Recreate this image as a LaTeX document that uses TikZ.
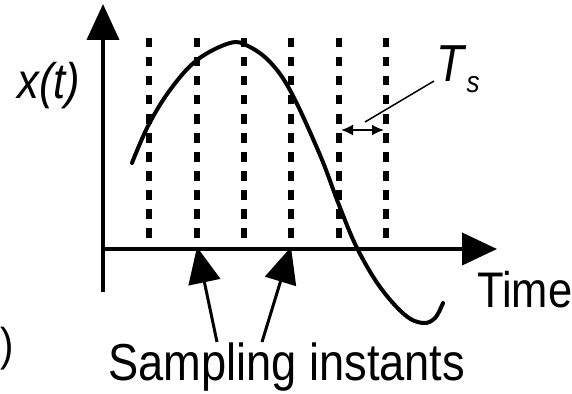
\documentclass[tikz,border=0pt]{standalone}
\usepackage{fontspec}
\setmainfont{Liberation Sans}[FakeStretch=0.87]
\usetikzlibrary{arrows.meta,positioning}

\begin{document}
\begin{tikzpicture}[x=1pt,y=-1pt,>=Latex,
    axis/.style={line width=4pt},
    sampleline/.style={line width=5.2pt,dash pattern=on 9.5pt off 9.5pt},
    bigtip/.style={-{Triangle[length=36pt,width=32pt]}},
    lbl/.style={font=\fontsize{52}{52}\selectfont,inner sep=0pt}]
  \useasboundingbox (0,0) rectangle (572,393);
  % axes
  \coordinate (ybot) at (103,292);
  \coordinate (ytop) at (103,4);
  \coordinate (orig) at (101,249);
  \coordinate (xend) at (497,249);
  \draw[axis,bigtip] (ybot) -- (ytop);
  \draw[axis,-{Triangle[length=35pt,width=32pt]}] (orig) -- (xend);
  % sampling instants
  \foreach \n/\x in {1/149,2/197,3/244,4/291,5/339,6/386}{
    \coordinate (t\n) at (\x,38);
    \coordinate (b\n) at (\x,249);
    \draw[sampleline] (t\n) -- (b\n);
  }
  % signal
  \draw[line width=4pt,line cap=round] plot[smooth,tension=0.6] coordinates {(132,163) (148,126) (170,90) (197,60) (230,43) (248,46) (270,62) (291,92) (320,155) (339,205) (357,248) (380,287) (405,315) (423,323) (435,318) (443,303)};
  % labels
  \node[lbl,font=\fontsize{50}{50}\selectfont\itshape] (xt) at (49,86) {x(t)};
  \node[lbl,font=\fontsize{50}{50}\selectfont,anchor=base west] (time) at (477,307) {Time};
  \node[lbl,anchor=base west] (samp) at (108,380) {Sampling instants};
  \node[lbl,font=\fontsize{46}{46}\selectfont,anchor=base east] (paren) at (14,360) {)};
  \node[lbl,anchor=base west] (ts) at (436,82) {\textit{T}\raisebox{-11pt}{\fontsize{30}{30}\selectfont\textit{s}}};
  % sampling period
  \coordinate (tsl) at (341,130);
  \coordinate (tsr) at (384,130);
  \coordinate (lead) at (365,122);
  \draw[line width=1.8pt,{Latex[length=12pt,width=11pt]}-{Latex[length=12pt,width=11pt]}] (tsl) -- (tsr);
  \draw[line width=1.5pt] (434,81) -- (lead);
  % arrows to the instants
  \coordinate (a1) at (217,342);
  \coordinate (a2) at (262,342);
  \draw[line width=3pt,bigtip] (a1) -- ([yshift=2pt]b2);
  \draw[line width=3pt,bigtip] (a2) -- ([yshift=2pt]b4);
\end{tikzpicture}
\end{document}
